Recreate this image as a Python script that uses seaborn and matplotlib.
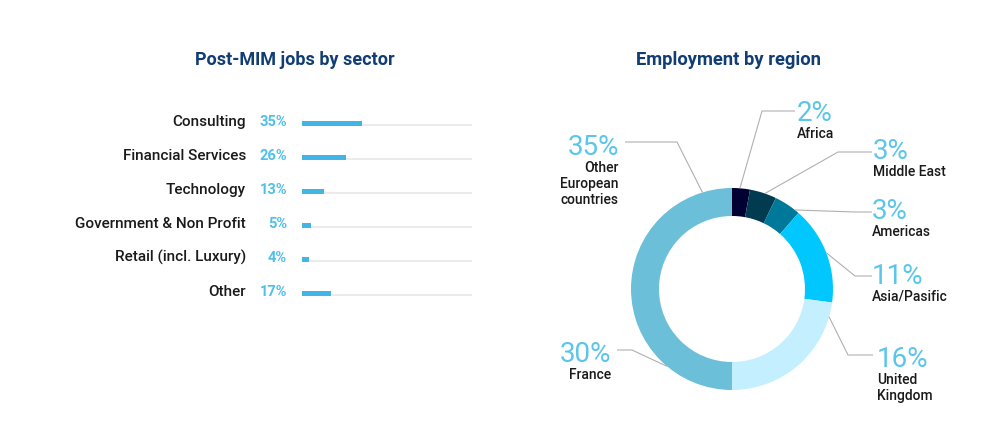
import numpy as np
import matplotlib
matplotlib.use("Agg")
import matplotlib.pyplot as plt
import seaborn as sns

# ---------------- data ----------------
sectors = ["Consulting", "Financial Services", "Technology",
           "Government & Non Profit", "Retail (incl. Luxury)", "Other"]
sector_pct = [35, 26, 13, 5, 4, 17]

regions = ["Africa", "Middle East", "Americas", "Asia/Pasific",
           "United Kingdom", "France", "Other European countries"]
region_pct = [2, 3, 3, 11, 16, 30, 35]
# the ring in the reference shows every region except France
ring_regions = ["Africa", "Middle East", "Americas", "Asia/Pasific",
                "United Kingdom", "Other European countries"]

title_left = "Post-MIM jobs by sector"
title_right = "Employment by region"

# ---------------- style ----------------
W, H = 1004, 444
sns.set_theme(style="white")
plt.rcParams["font.family"] = ["Roboto", "DejaVu Sans"]

NAVY = "#0f3d74"
BAR = "#41b6e6"
TRACK = "#ebebeb"
PCT = "#4fc0ea"
BIG = "#5bc6ea"
TXT = "#1a1a1a"
LINE = "#b0b0b0"
ring_colors = {"Africa": "#000033", "Middle East": "#003b50", "Americas": "#00789a",
               "Asia/Pasific": "#00c8ff", "United Kingdom": "#c4efff",
               "Other European countries": "#6cbfd8"}

fig = plt.figure(figsize=(W / 100, H / 100), dpi=100)
fig.patch.set_facecolor("white")


def fp(px, py):
    return px / W, 1 - py / H


# ---------------- left: bars ----------------
row_h = 34.0
bar_th = 5 / row_h
trk_th = 2 / row_h
ax_top, ax_left, ax_w = 106.5, 302, 170
n = len(sectors)
ax = fig.add_axes([ax_left / W, 1 - (ax_top + n * row_h) / H, ax_w / W, n * row_h / H])
xmax = 100
ax.barh(np.arange(n) + bar_th / 2 - trk_th / 2, [xmax] * n, height=trk_th,
        color=TRACK, linewidth=0, zorder=1)
sns.barplot(x=sector_pct, y=sectors, orient="h", color=BAR, width=bar_th,
            saturation=1, linewidth=0, ax=ax, zorder=2)
ax.set_xlim(0, xmax)
ax.set_ylim(n - 0.5, -0.5)
ax.axis("off")

for i, (s, v) in enumerate(zip(sectors, sector_pct)):
    base = ax_top + row_h * (i + 0.5) + 2.5
    fig.text(*fp(246, base), s, ha="right", va="baseline", fontsize=11,
             color=TXT, fontweight="medium")
    fig.text(*fp(287, base), f"{v}%", ha="right", va="baseline", fontsize=10.5,
             color=PCT, fontweight="bold")

fig.text(*fp(294.5, 65), title_left, ha="center", va="baseline", fontsize=13,
         color=NAVY, fontweight="bold")
fig.text(*fp(729, 65), title_right, ha="center", va="baseline", fontsize=13.2,
         color=NAVY, fontweight="bold")

# ---------------- right: donut ----------------
CX, CY, R, RW = 732, 289, 101, 28
ax2 = fig.add_axes([0, 0, 1, 1], zorder=3)
ax2.patch.set_alpha(0)
ring_vals = [region_pct[regions.index(r)] for r in ring_regions]
ax2.pie(ring_vals, radius=R, center=(0, 0), startangle=90, counterclock=False,
        colors=[ring_colors[r] for r in ring_regions],
        wedgeprops=dict(width=RW, edgecolor="none", linewidth=0))
ax2.set_xlim(-CX, W - CX)
ax2.set_ylim(CY - H, CY)
ax2.set_aspect("auto")
ax2.axis("off")


def dp(px, py):
    return px - CX, CY - py


# layout of labels: compass angle of anchor, elbow, end, text x, pct baseline, align
layout = {
    "Africa":          dict(ang=4.5, elbow=(762, 111), end=(795, 111), tx=797, pb=121, ha="left"),
    "Middle East":     dict(ang=19, elbow=(838, 152), end=(872, 152), tx=873, pb=159, ha="left"),
    "Americas":        dict(ang=38.5, elbow=(855, 212), end=(872, 212), tx=872, pb=219, ha="left"),
    "Asia/Pasific":    dict(ang=69, elbow=(855, 276), end=(872, 276), tx=872, pb=284, ha="left"),
    "United Kingdom":  dict(ang=106, elbow=(848, 355), end=(873, 355), tx=877, pb=367, ha="left",
                            name="United\nKingdom"),
    "France":          dict(ang=220, elbow=(632, 350), end=(617, 350), tx=611, pb=362, ha="right"),
    "Other European countries": dict(ang=343, elbow=(677, 142), end=(625, 142), tx=619, pb=155,
                                     ha="right", name="Other\nEuropean\ncountries"),
}

for r, v in zip(regions, region_pct):
    L = layout[r]
    a = np.deg2rad(L["ang"])
    ax_, ay_ = R * np.sin(a), R * np.cos(a)
    ex, ey = dp(*L["elbow"])
    nx, ny = dp(*L["end"])
    ax2.plot([ax_, ex, nx], [ay_, ey, ny], color=LINE, lw=0.8, solid_capstyle="butt")
    tx, ty = dp(L["tx"], L["pb"])
    ax2.text(tx, ty, f"{v}%", ha=L["ha"], va="baseline", fontsize=20,
             color=BIG, fontweight="normal")
    name = L.get("name", r)
    for k, line in enumerate(name.split("\n")):
        ax2.text(tx, ty - 16.5 - 16 * k, line, ha=L["ha"], va="baseline",
                 fontsize=10, color=TXT, fontweight="medium")

fig.savefig("out.png", dpi=100, facecolor="white")
